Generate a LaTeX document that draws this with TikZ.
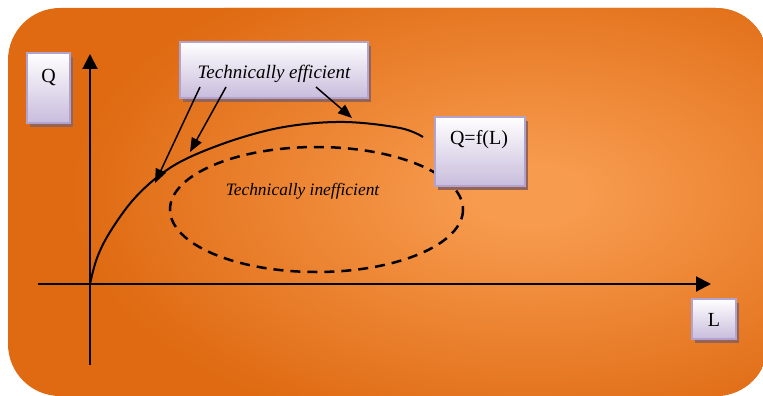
\documentclass[tikz,border=0pt]{standalone}
\usepackage{fontspec}
\setmainfont{Liberation Serif}
\usetikzlibrary{arrows.meta,shadows,calc}
\definecolor{glowin}{RGB}{247,155,78}
\definecolor{glowout}{RGB}{223,106,18}
\definecolor{boxborder}{RGB}{178,162,208}
\definecolor{boxbot}{RGB}{200,188,220}
\definecolor{shadowbrown}{RGB}{150,100,85}
\pgfdeclareradialshading{glow}{\pgfpoint{0bp}{0bp}}{color(0bp)=(glowin); color(3bp)=(glowin); color(25bp)=(glowout); color(50bp)=(glowout)}
\tikzset{
  panel/.style={draw=boxborder, line width=2.2pt, top color=white, bottom color=boxbot,
    general shadow={fill=shadowbrown, shadow xshift=3pt, shadow yshift=-4pt}, inner sep=0pt},
  lbl/.style={font=\fontsize{20}{24}\selectfont, text=black, inner sep=0pt, anchor=base},
  itlbl/.style={font=\fontsize{19}{23}\selectfont\itshape, text=black, inner sep=0pt, anchor=base},
  axis/.style={line width=2pt, -{Triangle[length=15pt,width=15pt]}},
  pointer/.style={line width=1.5pt, -{Triangle[length=14pt,width=11pt]}},
  curveline/.style={line width=2pt},
  dashline/.style={line width=2.5pt, dash pattern=on 10pt off 7pt}
}
\begin{document}
\begin{tikzpicture}[x=1pt,y=-1pt]
\useasboundingbox (0,0) rectangle (763,396);
% background panel
\begin{scope}
  \clip[rounded corners=52pt] (8,8) rectangle (768,396);
  \fill[glowout] (0,0) rectangle (770,400);
  \shade[shading=glow] (530,195) ellipse [x radius=460, y radius=250];
\end{scope}
% axes
\coordinate (ybot) at (90,365);
\coordinate (ytop) at (90,54);
\coordinate (xl) at (38,284);
\coordinate (xr) at (711,284);
\coordinate (origin) at (90,284);
\draw[axis] (ybot) -- (ytop);
\draw[axis] (xl) -- (xr);
% production curve
\draw[curveline] plot[smooth, tension=0.6] coordinates {(90,284) (97,258) (110,232) (133,200) (160,175) (190,157) (240,138) (290,126) (345,122) (400,128) (423,137)};
% dashed ellipse
\draw[dashline] (316.5,209.5) ellipse [x radius=146.5, y radius=62.5];
\node[itlbl, font=\fontsize{17.4}{21}\selectfont\itshape] (ineff) at (302.5,195) {Technically inefficient};
% boxes
\node[panel, minimum width=43pt, minimum height=70pt] (qbox) at (48.5,88) {};
\node[lbl] (qtxt) at (48.5,82) {Q};
\node[panel, minimum width=188pt, minimum height=56pt] (effbox) at (274,70) {};
\node[itlbl] (efftxt) at (274,78) {Technically efficient};
\node[panel, minimum width=90pt, minimum height=69pt] (fbox) at (480,151.5) {};
\node[lbl] (ftxt) at (479,144) {Q=f(L)};
\node[panel, minimum width=44pt, minimum height=40pt] (lbox) at (714,319) {};
\node[lbl] (ltxt) at (714,326) {L};
% pointers
\coordinate (p1s) at (200,87);
\coordinate (p1e) at (155,183);
\coordinate (p2s) at (226,87);
\coordinate (p2e) at (190,152);
\coordinate (p3s) at (316,87);
\coordinate (p3e) at (352,118);
\draw[pointer] (p1s) -- (p1e);
\draw[pointer] (p2s) -- (p2e);
\draw[pointer] (p3s) -- (p3e);
\end{tikzpicture}
\end{document}
